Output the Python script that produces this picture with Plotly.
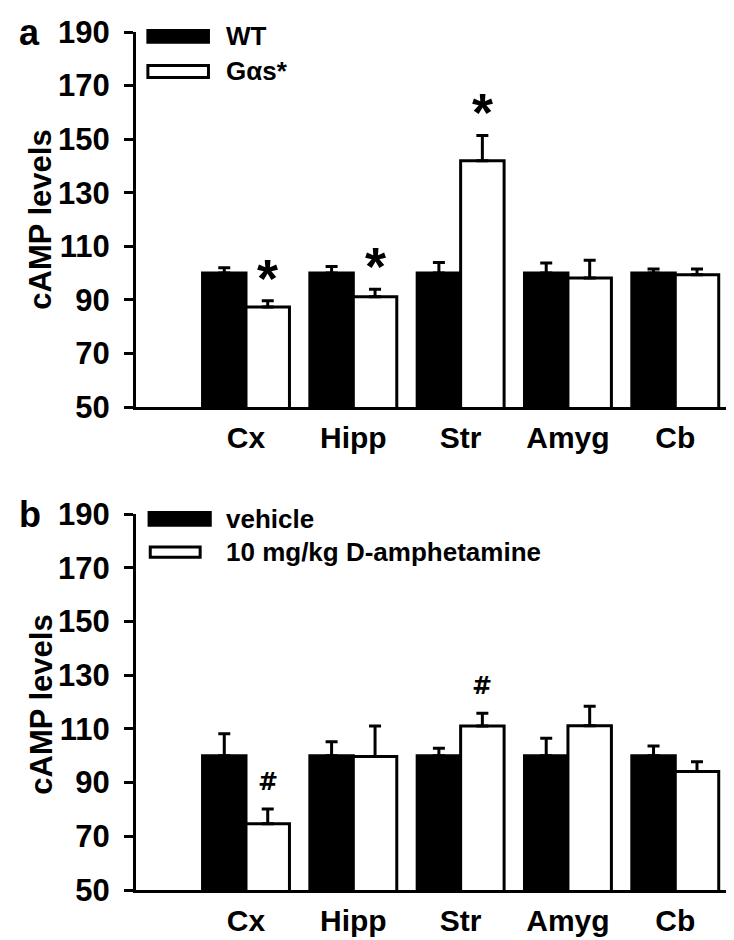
import plotly.graph_objects as go

regions = ["Cx", "Hipp", "Str", "Amyg", "Cb"]

# Panel a
wt_mean = [100, 100, 100, 100, 100]
wt_err = [2.0, 2.5, 4.0, 3.8, 1.5]
gas_mean = [87.3, 91.2, 141.9, 98.2, 99.4]
gas_err = [2.4, 2.8, 9.5, 6.6, 2.1]
gas_sig = ["*", "*", "*", "", ""]

# Panel b
veh_mean = [100, 100, 100, 100, 100]
veh_err = [8.2, 5.2, 2.8, 6.5, 3.6]
amph_mean = [74.7, 99.7, 111.1, 111.2, 94.1]
amph_err = [5.5, 11.4, 4.7, 7.2, 3.7]
amph_sig = ["#", "", "#", "", ""]

y_ticks = [50, 70, 90, 110, 130, 150, 170, 190]

FONT = "Liberation Sans, Arial, sans-serif"

fig = go.Figure()

def add_pair(black_y, black_e, white_y, white_e, name_b, name_w, xa, ya):
    fig.add_trace(go.Bar(
        x=regions, y=black_y, name=name_b, xaxis=xa, yaxis=ya,
        marker=dict(color="black", line=dict(color="black", width=3)),
        error_y=dict(type="data", symmetric=False, array=black_e,
                     arrayminus=[0] * len(black_e), color="black",
                     thickness=3, width=6),
        showlegend=False))
    fig.add_trace(go.Bar(
        x=regions, y=white_y, name=name_w, xaxis=xa, yaxis=ya,
        marker=dict(color="white", line=dict(color="black", width=3)),
        error_y=dict(type="data", symmetric=False, array=white_e,
                     arrayminus=[0] * len(white_e), color="black",
                     thickness=3, width=6),
        showlegend=False))

add_pair(wt_mean, wt_err, gas_mean, gas_err, "WT", "Gαs*", "x", "y")
add_pair(veh_mean, veh_err, amph_mean, amph_err, "vehicle",
         "10 mg/kg D-amphetamine", "x2", "y2")

annotations = []
shapes = []

# significance marks
white_offset = 0.2025
for i, s in enumerate(gas_sig):
    if s:
        annotations.append(dict(
            x=i + white_offset, y=gas_mean[i] + gas_err[i], xref="x", yref="y",
            text=s, showarrow=False, yanchor="middle", xanchor="center",
            yshift=23, font=dict(family=FONT, size=54, color="black", weight="bold")))
for i, s in enumerate(amph_sig):
    if s:
        annotations.append(dict(
            x=i + white_offset, y=amph_mean[i] + amph_err[i], xref="x2", yref="y2",
            text=s, showarrow=False, yanchor="middle", xanchor="center",
            yshift=27, font=dict(family="DejaVu Sans", size=24, color="black",
                                 weight="bold")))

# legends (drawn manually to match wide swatches)
def legend(xd, yd, items, boxes):
    for (label, fill), (x0, x1, y0, y1) in zip(items, boxes):
        shapes.append(dict(type="rect", xref=xd, yref=yd, x0=x0, x1=x1, y0=y0, y1=y1,
                           fillcolor=fill, line=dict(color="black", width=3)))
        annotations.append(dict(x=0.148, y=(y0 + y1) / 2, xref=xd, yref=yd,
                                text=label, showarrow=False, xanchor="left",
                                yanchor="middle",
                                font=dict(family=FONT, size=26, color="black",
                                          weight="bold")))

legend("x domain", "y domain", [("WT", "black"), ("Gαs*", "white")],
       [(0.02, 0.122, 0.973, 1.004), (0.02, 0.122, 0.879, 0.911)])
legend("x2 domain", "y2 domain", [("vehicle", "black"), ("10 mg/kg D-amphetamine", "white")],
       [(0.022, 0.125, 0.970, 1.004), (0.024, 0.108, 0.885, 0.912)])

# panel letters
annotations.append(dict(x=-0.1785, y=0.999, xref="paper", yref="paper", text="a",
                        showarrow=False, xanchor="center", yanchor="middle",
                        font=dict(family=FONT, size=36, color="black", weight="bold")))
annotations.append(dict(x=-0.1785, y=0.438, xref="paper", yref="paper", text="b",
                        showarrow=False, xanchor="center", yanchor="middle",
                        font=dict(family=FONT, size=36, color="black", weight="bold")))
# y titles
for yy in [0.7809, 0.2156]:
    annotations.append(dict(x=-0.1604, y=yy, xref="paper", yref="paper",
                            text="cAMP levels", textangle=-90, showarrow=False,
                            xanchor="center", yanchor="middle",
                            font=dict(family=FONT, size=31, color="black", weight="bold")))

xa = dict(type="category", range=[-1.025, 4.51], showline=True, linewidth=3,
          linecolor="black", ticks="outside", ticklen=2, tickcolor="rgba(0,0,0,0)",
          showgrid=False, zeroline=False, automargin=False,
          tickfont=dict(family=FONT, size=30, color="black", weight="bold"))
ya = dict(range=[50, 190], tickvals=y_ticks, showline=True, linewidth=3,
          linecolor="black", ticks="outside", ticklen=9, tickwidth=3,
          tickcolor="black", showgrid=False, zeroline=False, automargin=False,
          ticklabelstandoff=8, ticklabeloverflow="allow",
          tickfont=dict(family=FONT, size=31, color="black", weight="bold"))

fig.update_layout(
    template="none",
    width=734, height=940,
    margin=dict(l=128, r=12, t=24, b=58, pad=0),
    paper_bgcolor="white", plot_bgcolor="white",
    barmode="group", bargap=0.19, bargroupgap=0,
    xaxis=dict(xa, domain=[0, 1], anchor="y"),
    yaxis=dict(ya, domain=[0.5629, 1], anchor="x"),
    xaxis2=dict(xa, domain=[0, 1], anchor="y2"),
    yaxis2=dict(ya, domain=[0, 0.4382], anchor="x2"),
    annotations=annotations, shapes=shapes,
    showlegend=False,
)

fig.write_html("out.html")
